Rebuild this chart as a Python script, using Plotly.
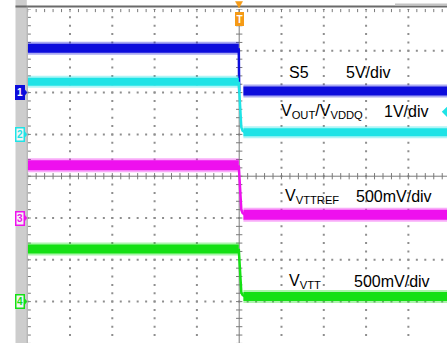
import plotly.graph_objects as go

# ---- screen geometry (in divisions) ----
X_DIVS_VISIBLE = 9.913     # right edge of the window
Y_BOTTOM, Y_TOP = -3.99, 4.0

# ---- channel data ----
CH_LABELS = ["S5", "V<sub>OUT</sub>/V<sub>VDDQ</sub>", "V<sub>VTTREF</sub>", "V<sub>VTT</sub>"]
SCALE_LABELS = ["5V/div", "1V/div", "500mV/div", "500mV/div"]
CH_NUMBERS = ["1", "2", "3", "4"]
CH_COLORS = ["#0c0cdc", "#1ee3e6", "#ee10ee", "#14e014"]
VOLTS_PER_DIV = [5.0, 1.0, 0.5, 0.5]
OFFSET_DIV = [2.0, 1.0, -1.0, -3.0]

# steady levels (V) before and after the turn-off edge
LEVEL_BEFORE = [5.3, 1.26, 0.63, 0.63]
LEVEL_AFTER = [0.2, 0.05, 0.04, 0.06]

# time spans (div) of the steady parts
T_BEFORE = [0.0, 4.99]
T_AFTER = [5.1, 9.913]

# edge waveforms (time in div, volts)
EDGE_T = [
    [4.99, 5.0, 5.02],
    [4.99, 5.03, 5.05, 5.08, 5.12, 5.18],
    [4.99, 5.03, 5.05, 5.08, 5.12, 5.18],
    [4.99, 5.03, 5.05, 5.08, 5.12, 5.18],
]
EDGE_V = [
    [5.3, 0.2, 0.2],
    [1.26, 0.35, 0.17, 0.09, 0.06, 0.05],
    [0.63, 0.2, 0.1, 0.06, 0.045, 0.04],
    [0.63, 0.2, 0.11, 0.08, 0.065, 0.06],
]
BAND_WIDTH = [9, 8, 10, 9]

FIG_W, FIG_H = 447, 343
PLOT_LEFT_PX, PLOT_TOP_PX = 27.7, 9.0
DIV_X, DIV_Y = 42.3, 41.8


def to_div(ch, volts):
    return [OFFSET_DIV[ch] + v / VOLTS_PER_DIV[ch] for v in volts]


def px_x(px):
    return px / FIG_W


def px_y(py):
    return 1 - py / FIG_H


def div_to_py(d):
    return PLOT_TOP_PX + (Y_TOP - d) * DIV_Y


def tri_path(points):
    pts = ["{} {:.5f},{:.5f}".format("M" if i == 0 else "L", px_x(x), px_y(y))
           for i, (x, y) in enumerate(points)]
    return " ".join(pts) + " Z"


fig = go.Figure()

GRID = "#8e8e8e"
AXIS = "#7a7a7a"

# dotted graticule
dx, dy = [], []
for gx in range(1, 10):
    if gx == 5:
        continue
    for k in range(-20, 21):
        dx.append(gx)
        dy.append(k * 0.2)
for gy in range(-3, 4):
    if gy == 0:
        continue
    for k in range(0, 50):
        dx.append(k * 0.2)
        dy.append(gy)
fig.add_trace(go.Scatter(x=dx, y=dy, mode="markers",
                         marker=dict(symbol="square", size=2, color=GRID, line=dict(width=0)),
                         hoverinfo="skip"))

# centre cross with minor ticks, plus frame ticks along top and left
lx, ly = [], []
lx += [0, X_DIVS_VISIBLE, None, 5, 5, None]
ly += [0, 0, None, Y_BOTTOM, Y_TOP, None]
tick = 0.075
for k in range(0, 50):
    t = k * 0.2
    lx += [t, t, None]
    ly += [-tick, tick, None]
    lx += [t, t, None]
    ly += [Y_TOP, Y_TOP - tick, None]
for k in range(-20, 21):
    v = k * 0.2
    lx += [5 - tick, 5 + tick, None]
    ly += [v, v, None]
    lx += [0, tick, None]
    ly += [v, v, None]
fig.add_trace(go.Scatter(x=lx, y=ly, mode="lines", line=dict(color=AXIS, width=1),
                         hoverinfo="skip"))

# waveforms: thick noisy-looking bands for the steady parts, thin trace on the edge
for ch in range(4):
    col = CH_COLORS[ch]
    for ts, lv in ((T_BEFORE, LEVEL_BEFORE[ch]), (T_AFTER, LEVEL_AFTER[ch])):
        yy = to_div(ch, [lv, lv])
        fig.add_trace(go.Scatter(x=ts, y=yy, mode="lines",
                                 line=dict(color=col, width=BAND_WIDTH[ch] + 4),
                                 opacity=0.35, hoverinfo="skip"))
        fig.add_trace(go.Scatter(x=ts, y=yy, mode="lines",
                                 line=dict(color=col, width=BAND_WIDTH[ch]),
                                 hoverinfo="skip"))
    fig.add_trace(go.Scatter(x=EDGE_T[ch], y=to_div(ch, EDGE_V[ch]), mode="lines",
                             line=dict(color=col, width=2.5), hoverinfo="skip"))

# off-screen reference indicator for channel 2
fig.add_trace(go.Scatter(x=[X_DIVS_VISIBLE], y=[1.54], mode="markers",
                         marker=dict(symbol="diamond", size=8, color=CH_COLORS[1]),
                         cliponaxis=False, hoverinfo="skip"))

TRIG = "#f59a16"
shapes = [
    # left channel-marker strip
    dict(type="rect", xref="paper", yref="paper", x0=px_x(15.5), x1=px_x(26.8),
         y0=0, y1=1, fillcolor="#cdcdcd", line=dict(width=0), layer="below"),
    # top frame line
    dict(type="line", xref="paper", yref="paper", x0=px_x(15.5), x1=1,
         y0=px_y(6.5), y1=px_y(6.5), line=dict(color="#6a6a6a", width=2)),
    dict(type="line", xref="paper", yref="paper", x0=px_x(395), x1=1,
         y0=px_y(4.5), y1=px_y(4.5), line=dict(color="#c4c4c4", width=2)),
    # left frame line
    dict(type="line", xref="paper", yref="paper", x0=px_x(27.2), x1=px_x(27.2),
         y0=0, y1=px_y(6.5), line=dict(color="#9a9a9a", width=1)),
    # trigger pointer
    dict(type="path", xref="paper", yref="paper",
         path=tri_path([(235.5, 1.5), (242.5, 1.5), (239, 8)]),
         fillcolor=TRIG, line=dict(color=TRIG, width=0.5)),
]

# pointer tips of the channel ground markers
for ch in range(4):
    yc = div_to_py(OFFSET_DIV[ch])
    shapes.append(dict(type="path", xref="paper", yref="paper",
                       path=tri_path([(23.5, yc - 4.5), (27, yc), (23.5, yc + 4.5)]),
                       fillcolor=CH_COLORS[ch], line=dict(color=CH_COLORS[ch], width=0.5)))

annotations = []
FONT = "Liberation Sans, Arial, sans-serif"
label_pos = [(287, 73), (279, 112), (283, 197), (287, 281)]
scale_pos = [(344, 73), (382, 112), (354, 197), (352, 281)]
for ch in range(4):
    annotations.append(dict(xref="paper", yref="paper", x=px_x(label_pos[ch][0]),
                            y=px_y(label_pos[ch][1]), xanchor="left", yanchor="middle",
                            text=CH_LABELS[ch], showarrow=False,
                            font=dict(family=FONT, size=16, color="black")))
    annotations.append(dict(xref="paper", yref="paper", x=px_x(scale_pos[ch][0]),
                            y=px_y(scale_pos[ch][1]), xanchor="left", yanchor="middle",
                            text=SCALE_LABELS[ch], showarrow=False,
                            font=dict(family=FONT, size=16, color="black")))
    filled = ch == 0
    annotations.append(dict(xref="paper", yref="y", x=px_x(20.2), y=OFFSET_DIV[ch],
                            xanchor="center", yanchor="middle",
                            text="<b>" + CH_NUMBERS[ch] + "</b>", showarrow=False,
                            width=7, height=12, borderpad=0, borderwidth=1.5,
                            bordercolor=CH_COLORS[ch],
                            bgcolor=CH_COLORS[ch] if filled else "#f4f4f4",
                            font=dict(family=FONT, size=10,
                                      color="white" if filled else CH_COLORS[ch])))

# trigger position marker
annotations.append(dict(xref="paper", yref="paper", x=px_x(239), y=px_y(19),
                        xanchor="center", yanchor="middle", text="<b>T</b>",
                        showarrow=False, width=7, height=12, borderpad=0, borderwidth=1,
                        bordercolor=TRIG, bgcolor=TRIG,
                        font=dict(family=FONT, size=10, color="white")))

fig.update_layout(
    width=FIG_W, height=FIG_H,
    margin=dict(l=0, r=0, t=0, b=0, autoexpand=False),
    paper_bgcolor="white", plot_bgcolor="white",
    showlegend=False,
    shapes=shapes,
    annotations=annotations,
    xaxis=dict(range=[0, X_DIVS_VISIBLE], domain=[px_x(PLOT_LEFT_PX), 1],
               visible=False, fixedrange=True),
    yaxis=dict(range=[Y_BOTTOM, Y_TOP], domain=[0, px_y(PLOT_TOP_PX)],
               visible=False, fixedrange=True),
)

fig.write_html("out.html")
